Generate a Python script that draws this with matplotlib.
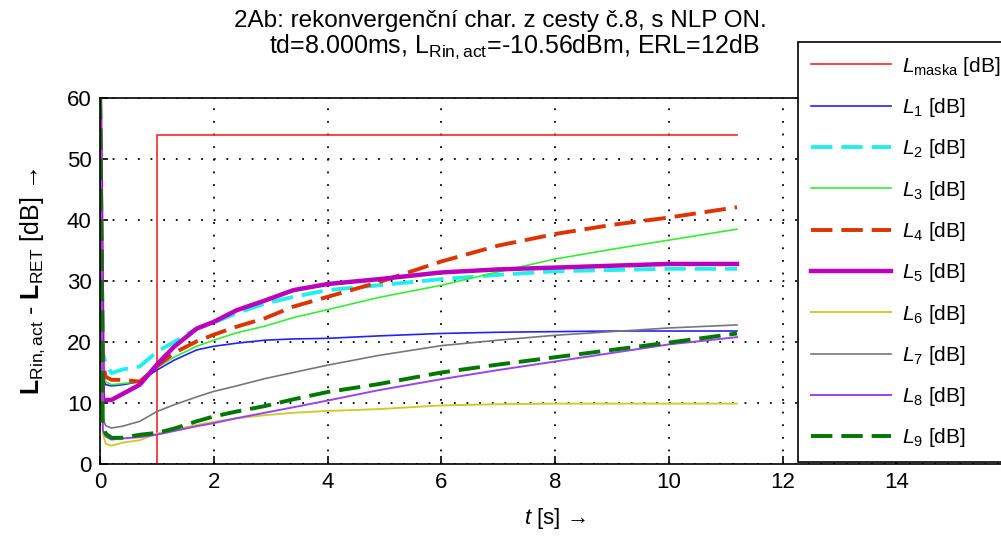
import matplotlib
matplotlib.use('Agg')
import matplotlib.pyplot as plt

# fonts
plt.rcParams['font.family'] = ['Liberation Sans', 'DejaVu Sans']
plt.rcParams['mathtext.fontset'] = 'custom'
plt.rcParams['mathtext.rm'] = 'Liberation Sans'
plt.rcParams['mathtext.it'] = 'Liberation Sans:italic'
plt.rcParams['mathtext.bf'] = 'Liberation Sans:bold'

# data (t in s, levels in dB)
t_mask = [1.0, 1.0, 11.2]
L_mask = [0.0, 53.9, 53.9]

t = [0.0, 0.05, 0.1, 0.2, 0.4, 0.7, 1.0, 1.3, 1.7, 2.0, 2.4, 2.9, 3.4, 4.0, 4.9,
     6.0, 7.0, 8.0, 9.0, 10.0, 11.2]
L1 = [60, 14.3, 13.0, 12.8, 13.0, 13.5, 15.4, 17.0, 18.7, 19.3, 19.8, 20.3, 20.5, 20.6, 21.0,
      21.4, 21.6, 21.7, 21.8, 21.8, 21.8]
L2 = [60, 18.2, 16.5, 14.9, 15.5, 16.0, 18.4, 20.0, 22.2, 23.2, 24.7, 26.3, 27.4, 28.5, 29.3,
      30.3, 31.0, 31.6, 31.8, 32.0, 32.0]
L3 = [60, 15.0, 13.5, 13.0, 13.2, 13.5, 15.8, 17.5, 19.3, 20.3, 21.5, 22.6, 24.0, 25.3, 27.3,
      29.3, 31.5, 33.6, 35.2, 36.7, 38.5]
L4 = [60, 16.5, 14.3, 13.8, 13.8, 13.5, 16.0, 18.2, 20.1, 21.2, 22.5, 23.9, 25.8, 27.4, 29.8,
      33.2, 35.8, 37.7, 39.2, 40.4, 42.1]
L5 = [60, 10.5, 10.5, 10.5, 11.5, 13.0, 16.3, 19.2, 22.2, 23.3, 25.2, 26.8, 28.5, 29.5, 30.3,
      31.4, 31.9, 32.2, 32.5, 32.8, 32.8]
L6 = [60, 5.0, 3.3, 3.0, 3.5, 3.9, 5.0, 5.6, 6.4, 6.9, 7.5, 8.0, 8.4, 8.7, 9.0,
      9.6, 9.8, 9.9, 9.9, 9.9, 9.9]
L7 = [60, 7.3, 6.3, 5.9, 6.2, 7.0, 8.6, 9.7, 11.0, 11.9, 12.8, 14.0, 15.0, 16.2, 17.8,
      19.4, 20.3, 21.1, 21.7, 22.3, 22.8]
L8 = [60, 5.5, 4.5, 4.0, 4.2, 4.4, 4.8, 5.4, 6.2, 6.7, 7.5, 8.4, 9.3, 10.4, 12.1,
      13.9, 15.4, 16.8, 18.2, 19.6, 20.8]
L9 = [60, 6.2, 5.0, 4.3, 4.3, 4.8, 5.1, 5.8, 7.0, 7.8, 8.6, 9.5, 10.6, 11.8, 13.1,
      15.0, 16.3, 17.5, 18.7, 19.9, 21.4]

series = [L1, L2, L3, L4, L5, L6, L7, L8, L9]
labels = [r'$\it{L}_{\mathrm{%d}}$ [dB]' % (i + 1) for i in range(9)]
colors = ['#2222ff', '#22eeee', '#33ee33', '#dd3300', '#bb00bb',
          '#cccc33', '#777777', '#9944ee', '#007700']
widths = [1.2, 2.8, 1.2, 2.8, 3.2, 1.4, 1.2, 1.4, 2.8]
dashed = [False, True, False, True, False, False, False, False, True]

fig = plt.figure(figsize=(10.01, 5.36), dpi=100)
ax = fig.add_axes([100 / 1001, 72 / 536, 910 / 1001, 366 / 536])

handles = []
h, = ax.plot(t_mask, L_mask, color='#ff2222', lw=1.2,
             label=r'$\it{L}_{\mathrm{maska}}$ [dB]')
handles.append(h)
for y, lab, c, w, d in zip(series, labels, colors, widths, dashed):
    if d:
        h, = ax.plot(t, y, color=c, lw=w, dashes=(5.5, 2.3), label=lab)
    else:
        h, = ax.plot(t, y, color=c, lw=w, label=lab)
    handles.append(h)

ax.set_xlim(0, 16)
ax.set_ylim(0, 60)
ax.set_xticks(range(0, 17, 2))
ax.set_xticklabels(['0', '2', '4', '6', '8', '10', '12', '14', ''])
ax.set_yticks(range(0, 61, 10))
ax.tick_params(direction='in', labelsize=16, length=6, width=1.2, pad=6)
ax.grid(True, color='black', linestyle=(0, (1, 6)), linewidth=1.3)
for s in ax.spines.values():
    s.set_linewidth(1.2)

ax.set_xlabel(r'$\it{t}$ [s] →', fontsize=16, labelpad=9)
ax.set_ylabel(r'$\mathbf{L}_{\mathrm{Rin,act}}$ - $\mathbf{L}_{\mathrm{RET}}$ [dB] →',
              fontsize=18, labelpad=14)

fig.text(0.5, 1 - 21 / 536, '2Ab: rekonvergenční char. z cesty č.8, s NLP ON.',
         ha='center', va='center', fontsize=17.5)
fig.text(0.514, 1 - 47 / 536, r'td=8.000ms, L$_{\mathrm{Rin,act}}$=-10.56dBm, ERL=12dB',
         ha='center', va='center', fontsize=18)

leg = ax.legend(handles=handles, loc='upper left',
                bbox_to_anchor=(798 / 1001, 1 - 42 / 536), bbox_transform=fig.transFigure,
                borderaxespad=0, fontsize=15, frameon=True, fancybox=False,
                edgecolor='black', framealpha=1, handlelength=3.85, handletextpad=0.55,
                labelspacing=0.88, borderpad=0.6)
leg.get_frame().set_linewidth(1.2)

fig.savefig('out.png', dpi=100)
